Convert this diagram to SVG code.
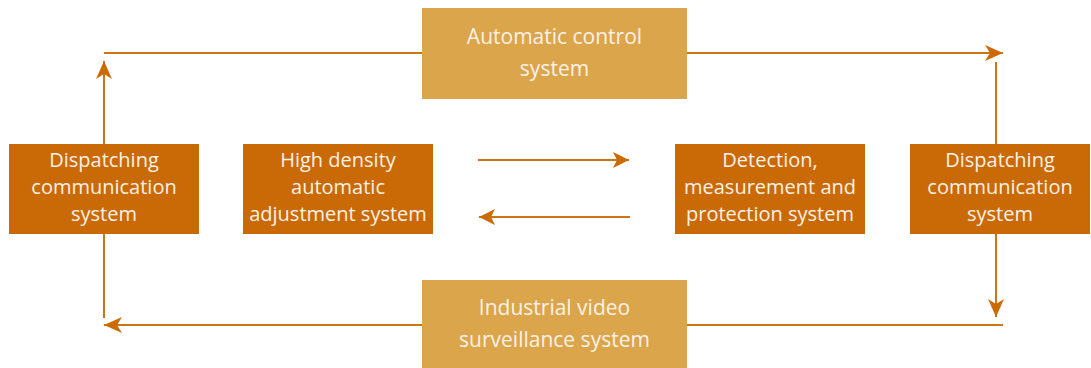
<svg xmlns="http://www.w3.org/2000/svg" width="1091" height="368" viewBox="0 0 1091 368">
<style>
.dark{fill:#C96A06}
.light{fill:#DBA54B}
.t{font-family:"Open Sans","Noto Sans",sans-serif;font-size:20px;fill:#FBF1E6;text-anchor:middle}
.big{font-size:21px}
.ln{stroke:#CF7414;stroke-width:2;fill:none}
</style>
<defs>
<marker id="ah" markerUnits="userSpaceOnUse" markerWidth="20" markerHeight="18" viewBox="-19 -9 20 18" refX="0" refY="0" orient="auto">
<path d="M0,0 L-18,-8 L-13,0 L-18,8 Z" fill="#CC6B06"/>
</marker>
<marker id="ah2" markerUnits="userSpaceOnUse" markerWidth="20" markerHeight="18" viewBox="-19 -9 20 18" refX="0" refY="0" orient="auto">
<path d="M0,0 L-16,-8 L-12,0 L-16,8 Z" fill="#CC6B06"/>
</marker>
</defs>
<g id="connectors">
<path class="ln" d="M422,53 H104"/>
<path class="ln" d="M687,53 H1003" marker-end="url(#ah)"/>
<path class="ln" d="M996,62 V144"/>
<path class="ln" d="M996,234 V317" marker-end="url(#ah)"/>
<path class="ln" d="M1003,325 H687"/>
<path class="ln" d="M422,325 H104" marker-end="url(#ah)"/>
<path class="ln" d="M104,318 V234"/>
<path class="ln" d="M104,144 V61" marker-end="url(#ah)"/>
<path class="ln" d="M478,160 H629" marker-end="url(#ah2)"/>
<path class="ln" d="M630,217 H479" marker-end="url(#ah2)"/>
</g>
<g id="auto">
<rect class="light" x="422" y="8" width="265" height="91"/>
<text class="t big" x="554.5" y="44">Automatic control</text>
<text class="t big" x="554.5" y="76">system</text>
</g>
<g id="video">
<rect class="light" x="422" y="280" width="265" height="88"/>
<text class="t big" x="554.5" y="315">Industrial video</text>
<text class="t big" x="554.5" y="347">surveillance system</text>
</g>
<g id="disp-left">
<rect class="dark" x="9" y="144" width="190" height="90"/>
<text class="t" x="104" y="167">Dispatching</text>
<text class="t" x="104" y="194">communication</text>
<text class="t" x="104" y="221">system</text>
</g>
<g id="highdensity">
<rect class="dark" x="243" y="144" width="190" height="90"/>
<text class="t" x="338" y="167">High density</text>
<text class="t" x="338" y="194">automatic</text>
<text class="t" x="338" y="221">adjustment system</text>
</g>
<g id="detection">
<rect class="dark" x="675" y="144" width="190" height="90"/>
<text class="t" x="770" y="167">Detection,</text>
<text class="t" x="770" y="194">measurement and</text>
<text class="t" x="770" y="221">protection system</text>
</g>
<g id="disp-right">
<rect class="dark" x="910" y="144" width="180" height="90"/>
<text class="t" x="1000" y="167">Dispatching</text>
<text class="t" x="1000" y="194">communication</text>
<text class="t" x="1000" y="221">system</text>
</g>
</svg>
